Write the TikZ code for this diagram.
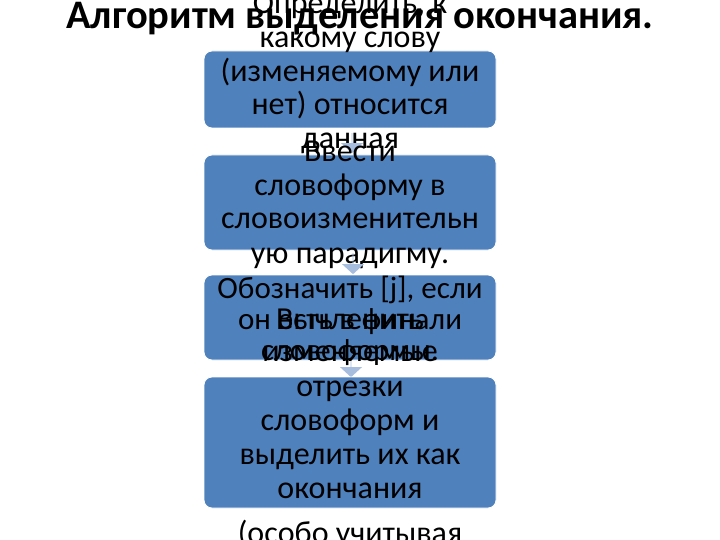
\documentclass[tikz,border=0pt]{standalone}
\usepackage{fontspec}
\setmainfont{Carlito}
\usetikzlibrary{shapes.arrows}
\definecolor{boxblue}{HTML}{4F81BD}
\definecolor{arrblue}{HTML}{A7BDDD}
\begin{document}
\begin{tikzpicture}[x=1pt,y=-1pt,
  box/.style={fill=boxblue, draw=white, line width=0.8pt, rounded corners=8pt, inner sep=0pt, minimum width=292pt},
  btxt/.style={font=\fontsize{32}{33.6}\selectfont, anchor=base, inner sep=0pt, text=black},
  btxs/.style={font=\fontsize{31}{33}\selectfont, anchor=base, inner sep=0pt, text=black},
  ttl/.style={font=\fontsize{40.5}{44}\selectfont\bfseries, anchor=base, inner sep=0pt, text=black},
  arr/.style={single arrow, fill=arrblue, draw=none, rotate=-90, inner sep=0pt, minimum width=22pt, single arrow head extend=6pt, single arrow tip angle=95, single arrow head indent=0pt}]
\useasboundingbox (0,0) rectangle (720,540);
\fill[white] (0,0) rectangle (720,540);
% box 1
\node[box, minimum height=77pt] (b1) at (350,89.5) {};
\node[btxt] (t1a) at (350,14) {Определить, к};
\node[btxt] (t1b) at (350,48) {какому слову};
\node[btxt] (t1c) at (350,82) {(изменяемому или};
\node[btxt] (t1d) at (350,115) {нет) относится};
\node[btxt] (t1e) at (350,149) {данная};
\node[arr, minimum height=20pt] (a1) at (352,143) {};
% box 2
\node[box, minimum height=95pt] (b2) at (350,202.5) {};
\node[btxt] (t2a) at (350,162) {Ввести};
\node[btxt] (t2b) at (350,196) {словоформу в};
\node[btxt] (t2c) at (350,229) {словоизменительн};
\node[btxt] (t2d) at (350,263) {ую парадигму.};
\node[arr, minimum height=21pt] (a2) at (353,263.5) {};
% box 3
\node[box, minimum height=85pt] (b3) at (350,317.5) {};
\node[btxs] (t3a) at (350,298) {Обозначить [j], если};
\node[btxs] (t3b) at (350,329) {он есть в финали};
\node[btxs] (t3c) at (350,360) {словоформы.};
\node[arr, minimum height=16pt] (a3) at (351,369) {};
% box 4
\node[box, minimum height=131pt] (b4) at (350,442.5) {};
\node[btxt] (t4a) at (350,329) {Вычленить};
\node[btxt] (t4b) at (350,361) {изменяемые};
\node[btxt] (t4c) at (350,396) {отрезки};
\node[btxt] (t4d) at (350,430) {словоформ и};
\node[btxt] (t4e) at (350,464) {выделить их как};
\node[btxt] (t4f) at (350,498) {окончания};
\node[btxt] (t4g) at (350,543) {(особо учитывая};
% title
\node[ttl] (title) at (360,29) {Алгоритм выделения окончания.};
\end{tikzpicture}
\end{document}
